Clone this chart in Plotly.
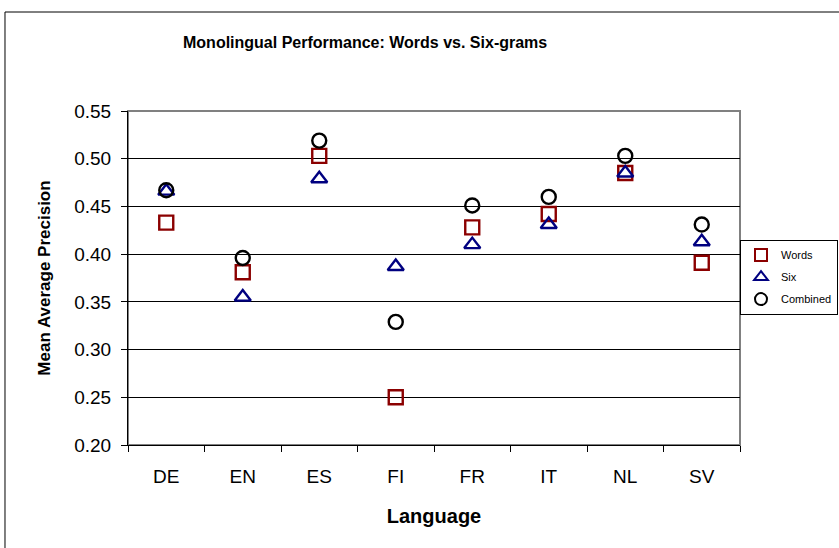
import plotly.graph_objects as go

languages = ["DE", "EN", "ES", "FI", "FR", "IT", "NL", "SV"]
words = [0.433, 0.381, 0.503, 0.250, 0.428, 0.442, 0.485, 0.391]
six = [0.466, 0.355, 0.479, 0.387, 0.410, 0.431, 0.485, 0.413]
combined = [0.467, 0.396, 0.519, 0.329, 0.451, 0.460, 0.503, 0.431]
y_ticks = [0.20, 0.25, 0.30, 0.35, 0.40, 0.45, 0.50, 0.55]

FONT = "Liberation Sans, Arial, sans-serif"

fig = go.Figure()
fig.add_trace(go.Scatter(x=languages, y=words, mode="markers", name="Words", legendgroup="w",
                         marker=dict(symbol="square-open", size=14, color="#8B0000",
                                     line=dict(width=2.4, color="#8B0000"))))
fig.add_trace(go.Scatter(x=languages, y=six, mode="markers", name="Six", legendgroup="s",
                         marker=dict(symbol="triangle-up-open", size=14, color="#000080",
                                     line=dict(width=2.4, color="#000080"))))
fig.add_trace(go.Scatter(x=languages, y=combined, mode="markers", name="Combined", legendgroup="c",
                         marker=dict(symbol="circle-open", size=14, color="#000000",
                                     line=dict(width=2.4, color="#000000"))))

fig.update_layout(
    width=839, height=548,
    margin=dict(l=128, r=99, t=111, b=103, autoexpand=False),
    paper_bgcolor="white", plot_bgcolor="white",
    font=dict(family=FONT, color="black"),
    showlegend=True,
    legend=dict(x=(740 - 128) / 612, y=0.615, xanchor="left", yanchor="top",
                bordercolor="black", borderwidth=1, bgcolor="white",
                font=dict(size=11, family=FONT), itemsizing="constant",
                traceorder="grouped", tracegroupgap=3, itemwidth=30),
    annotations=[dict(text="<b>Monolingual Performance: Words vs. Six-grams</b>",
                      xref="paper", yref="paper", x=0.387, y=1.204,
                      xanchor="center", yanchor="middle", showarrow=False,
                      font=dict(size=16, family=FONT))],
    shapes=[
        dict(type="rect", xref="paper", yref="paper", x0=0, x1=1, y0=0, y1=1,
             line=dict(color="#808080", width=2), layer="below"),
        dict(type="rect", xref="paper", yref="paper", x0=-0.201, x1=1.3, y0=-0.5, y1=1.2964,
             line=dict(color="black", width=1), layer="below"),
    ],
)

fig.update_xaxes(
    type="category", categoryorder="array", categoryarray=languages,
    range=[-0.5, 7.5],
    showgrid=False, showline=True, linecolor="black", linewidth=1,
    ticks="outside", tickson="boundaries", ticklen=6, tickcolor="black",
    tickfont=dict(size=19, family=FONT), ticklabelstandoff=14,
    title=dict(text="<b>Language</b>", font=dict(size=20, family=FONT), standoff=23),
    zeroline=False,
)
fig.update_yaxes(
    range=[0.20, 0.55], tickvals=y_ticks, ticktext=[f"{v:.2f}" for v in y_ticks],
    showgrid=True, gridcolor="black", gridwidth=1,
    showline=True, linecolor="black", linewidth=1,
    ticks="outside", ticklen=6, tickcolor="black",
    tickfont=dict(size=19, family=FONT), ticklabelstandoff=6,
    title=dict(text="<b>Mean Average Precision</b>", font=dict(size=17, family=FONT), standoff=19),
    zeroline=False,
)

fig.write_html("out.html", config={"displayModeBar": False},
               post_script="document.body.style.margin='0';")
